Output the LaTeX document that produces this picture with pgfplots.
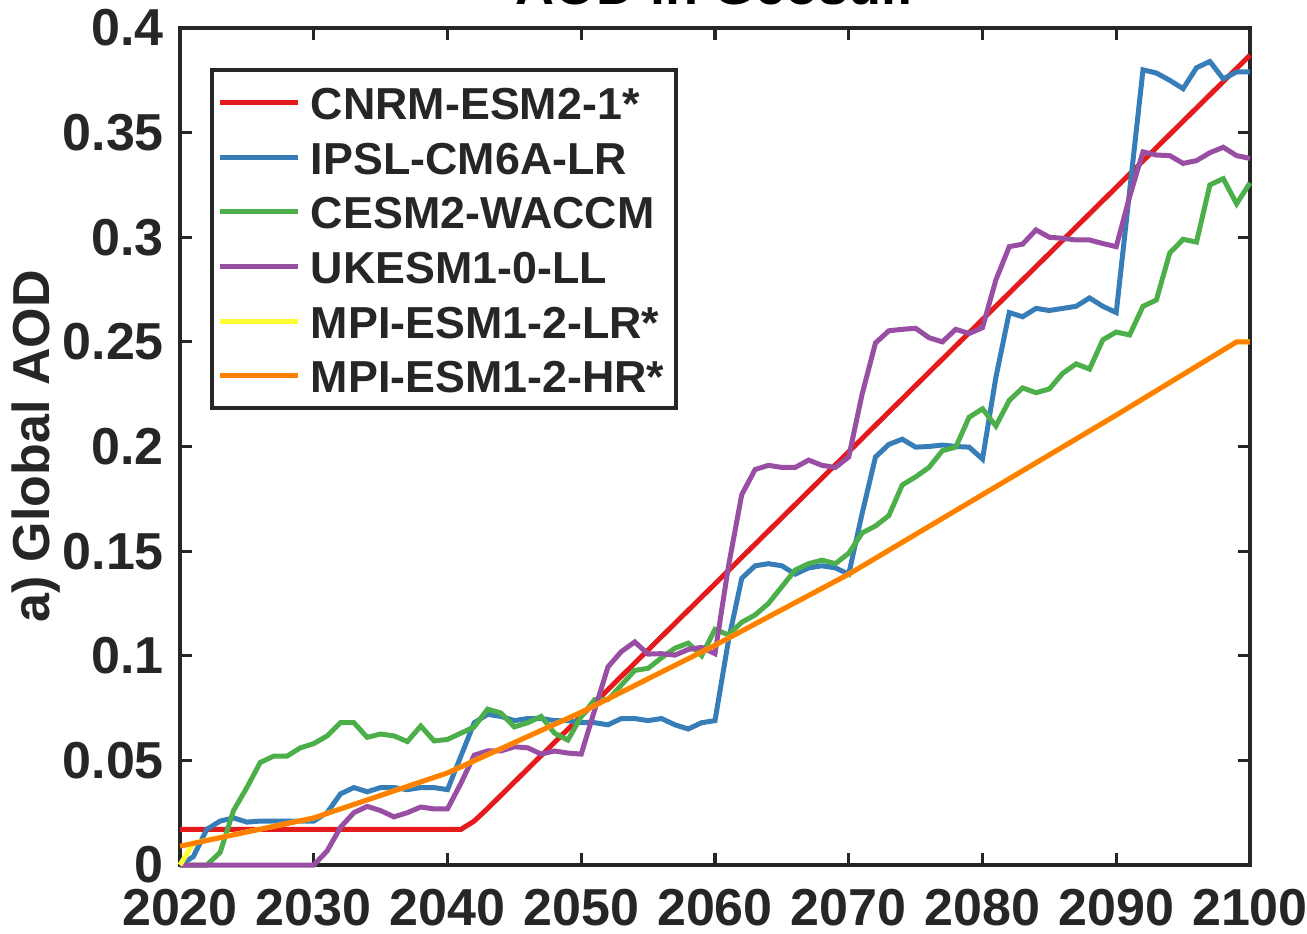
\documentclass[border=0pt]{standalone}
\usepackage{pgfplots}
\pgfplotsset{compat=1.18}
\usepackage{fontspec}
\setmainfont{Liberation Sans}

\definecolor{axgray}{HTML}{262626}
\definecolor{cnrm}{HTML}{E41A1C}
\definecolor{ipsl}{HTML}{377EB8}
\definecolor{cesm}{HTML}{4DAF4A}
\definecolor{ukesm}{HTML}{984EA3}
\definecolor{mpilr}{HTML}{FFFF33}
\definecolor{mpihr}{HTML}{FF7F00}

\begin{document}
\begin{tikzpicture}
\begin{axis}[
    scale only axis,
    width=267.5pt, height=209.25pt,
    xmin=2020, xmax=2100,
    ymin=0, ymax=0.4,
    xtick={2020,2030,...,2100},
    ytick={0,0.05,...,0.4},
    clip=false,
    tick align=inside,
    major tick length=3pt,
    axis line style={line width=1pt, draw=axgray},
    every tick/.style={line width=0.8pt, axgray},
    ticklabel style={font=\bfseries\fontsize{13}{15}\selectfont, text=axgray,
        /pgf/number format/assume math mode=true},
    xticklabel style={/pgf/number format/1000 sep=, yshift=-2.5pt},
    yticklabel style={/pgf/number format/fixed, /pgf/number format/precision=2, xshift=-0.5pt},
    ylabel={a) Global AOD},
    ylabel style={at={(axis description cs:0,0.5)}, anchor=center, yshift=36pt,
        font=\bfseries\fontsize{13}{15}\selectfont, text=axgray},
    title={AOD in Geosulf},
    title style={at={(axis description cs:0.5,1)}, anchor=base, yshift=0pt,
        font=\bfseries\fontsize{13.5}{16}\selectfont, text=black},
    legend cell align=left,
    legend image code/.code={\draw[#1] (0pt,0pt) -- (19.5pt,0pt); \path (20.5pt,0pt);},
    legend style={at={(axis description cs:0.028,0.952)}, anchor=north west,
        draw=axgray, line width=1pt, inner xsep=1.5pt, inner ysep=1.9pt,
        row sep=1.15pt,
        nodes={inner xsep=1.5pt, inner ysep=0pt, text height=10.5pt, text depth=2pt},
        font=\bfseries\fontsize{11.2}{13}\selectfont, text=axgray},
    every axis plot/.append style={line width=1.25pt},
]

% CNRM-ESM2-1*
\addplot[cnrm] coordinates {
(2020,0.017) (2041,0.017) (2042,0.021) (2043,0.027) (2100,0.387)
};

% IPSL-CM6A-LR
\addplot[ipsl] coordinates {
(2020,0.000) (2021,0.004) (2022,0.017) (2023,0.021) (2024,0.0225) (2025,0.0205)
(2026,0.021) (2027,0.021) (2028,0.021) (2029,0.021) (2030,0.021)
(2031,0.025) (2032,0.034) (2033,0.037) (2034,0.035) (2035,0.037)
(2036,0.037) (2037,0.036) (2038,0.037) (2039,0.037) (2040,0.036)
(2041,0.052) (2042,0.068) (2043,0.072) (2044,0.071) (2045,0.069)
(2046,0.070) (2047,0.070) (2048,0.069) (2049,0.069) (2050,0.068)
(2051,0.068) (2052,0.067) (2053,0.070) (2054,0.070) (2055,0.069)
(2056,0.070) (2057,0.067) (2058,0.065) (2059,0.068) (2060,0.069)
(2061,0.107) (2062,0.137) (2063,0.143) (2064,0.144) (2065,0.143)
(2066,0.139) (2067,0.142) (2068,0.143) (2069,0.142) (2070,0.139)
(2071,0.168) (2072,0.195) (2073,0.201) (2074,0.2035) (2075,0.1997)
(2076,0.200) (2077,0.2007) (2078,0.200) (2079,0.1997) (2080,0.194)
(2081,0.233) (2082,0.264) (2083,0.262) (2084,0.266) (2085,0.265)
(2086,0.266) (2087,0.267) (2088,0.271) (2089,0.267) (2090,0.264)
(2091,0.322) (2092,0.380) (2093,0.3785) (2094,0.375) (2095,0.371)
(2096,0.381) (2097,0.384) (2098,0.3757) (2099,0.379) (2100,0.379)
};

% CESM2-WACCM
\addplot[cesm] coordinates {
(2020,0) (2021,0) (2022,0) (2023,0.006) (2024,0.026) (2025,0.037)
(2026,0.049) (2027,0.052) (2028,0.052) (2029,0.056) (2030,0.058)
(2031,0.0617) (2032,0.068) (2033,0.068) (2034,0.061) (2035,0.0626)
(2036,0.0617) (2037,0.059) (2038,0.0664) (2039,0.0593) (2040,0.060)
(2041,0.063) (2042,0.066) (2043,0.0745) (2044,0.0726) (2045,0.066)
(2046,0.068) (2047,0.071) (2048,0.063) (2049,0.0597) (2050,0.071)
(2051,0.079) (2052,0.079) (2053,0.086) (2054,0.093) (2055,0.094)
(2056,0.099) (2057,0.1036) (2058,0.106) (2059,0.100) (2060,0.1126)
(2061,0.110) (2062,0.116) (2063,0.1195) (2064,0.125) (2065,0.133)
(2066,0.141) (2067,0.144) (2068,0.1457) (2069,0.144) (2070,0.149)
(2071,0.1587) (2072,0.162) (2073,0.167) (2074,0.1816) (2075,0.1855)
(2076,0.190) (2077,0.198) (2078,0.1997) (2079,0.214) (2080,0.218)
(2081,0.2098) (2082,0.222) (2083,0.228) (2084,0.2257) (2085,0.2275)
(2086,0.235) (2087,0.2395) (2088,0.237) (2089,0.251) (2090,0.2547)
(2091,0.2533) (2092,0.267) (2093,0.270) (2094,0.2925) (2095,0.299)
(2096,0.2977) (2097,0.325) (2098,0.328) (2099,0.316) (2100,0.326)
};

% UKESM1-0-LL
\addplot[ukesm] coordinates {
(2020,0) (2030,0) (2031,0.0067) (2032,0.018) (2033,0.025) (2034,0.028) (2035,0.026)
(2036,0.023) (2037,0.025) (2038,0.0277) (2039,0.0268) (2040,0.0268)
(2041,0.039) (2042,0.0525) (2043,0.0545) (2044,0.0545) (2045,0.0565)
(2046,0.056) (2047,0.053) (2048,0.0545) (2049,0.0535) (2050,0.053)
(2051,0.074) (2052,0.0947) (2053,0.102) (2054,0.1066) (2055,0.1008)
(2056,0.101) (2057,0.1003) (2058,0.103) (2059,0.104) (2060,0.101)
(2061,0.1425) (2062,0.177) (2063,0.189) (2064,0.191) (2065,0.190)
(2066,0.190) (2067,0.1935) (2068,0.191) (2069,0.190) (2070,0.195)
(2071,0.225) (2072,0.2495) (2073,0.2553) (2074,0.256) (2075,0.2565)
(2076,0.252) (2077,0.250) (2078,0.256) (2079,0.254) (2080,0.2568)
(2081,0.2796) (2082,0.2955) (2083,0.2967) (2084,0.3035) (2085,0.300)
(2086,0.2995) (2087,0.2987) (2088,0.2987) (2089,0.297) (2090,0.2955)
(2091,0.3194) (2092,0.3408) (2093,0.3393) (2094,0.339) (2095,0.3353)
(2096,0.3366) (2097,0.3404) (2098,0.343) (2099,0.339) (2100,0.3377)
};

% MPI-ESM1-2-LR*
\addplot[mpilr] coordinates {
(2020,0) (2021,0.0105) (2030,0.0225) (2040,0.044) (2050,0.073) (2060,0.105)
(2070,0.139) (2080,0.177) (2090,0.215) (2099,0.250) (2100,0.250)
};

% MPI-ESM1-2-HR*
\addplot[mpihr] coordinates {
(2020,0.009) (2030,0.0225) (2040,0.044) (2050,0.073) (2060,0.105)
(2070,0.139) (2080,0.177) (2090,0.215) (2099,0.250) (2100,0.250)
};

\legend{CNRM-ESM2-1*, IPSL-CM6A-LR, CESM2-WACCM, UKESM1-0-LL, MPI-ESM1-2-LR*, MPI-ESM1-2-HR*}
\end{axis}
\pgfresetboundingbox
\useasboundingbox (-45pt,-17pt) rectangle (281.75pt,216.25pt);
\end{tikzpicture}
\end{document}
